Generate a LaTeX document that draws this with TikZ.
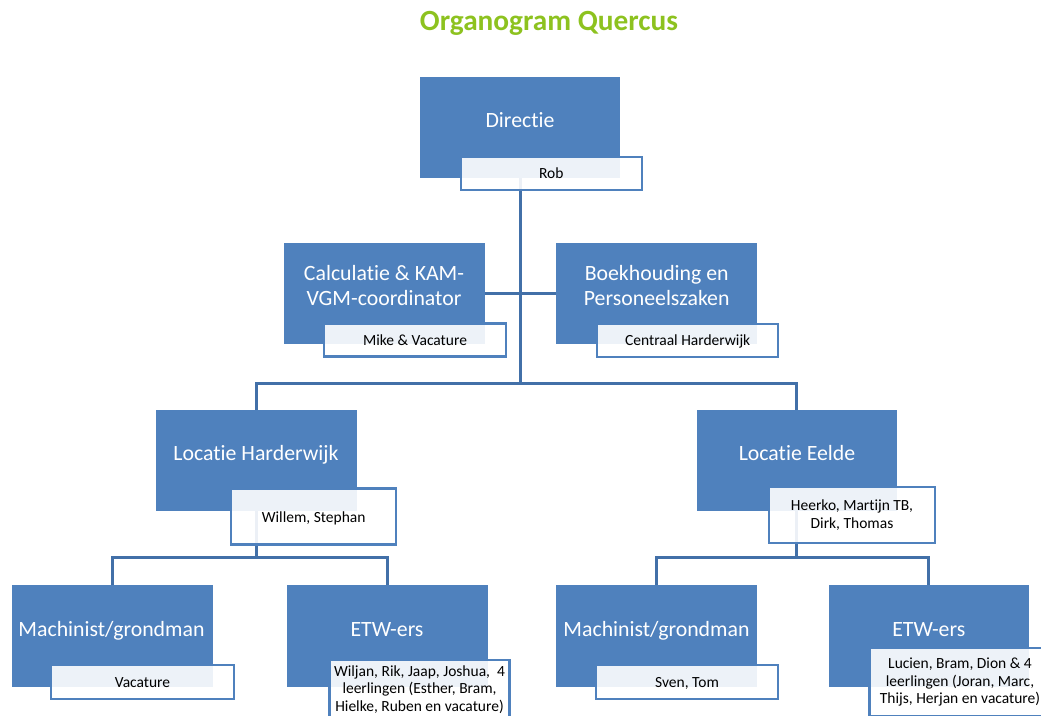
\documentclass[tikz,border=0pt]{standalone}
\usepackage{fontspec}
\setmainfont{Carlito}[Ligatures={NoCommon,NoRare,NoContextual}]
\definecolor{accblue}{HTML}{4F81BD}
\definecolor{lineblue}{HTML}{4270A8}
\definecolor{titlegreen}{HTML}{8DC21F}
\begin{document}
\begin{tikzpicture}[x=1pt,y=-1pt,
  bbox/.style={fill=accblue, draw=none, minimum width=200pt, minimum height=101pt, inner sep=0pt},
  btext/.style={text=white, font=\fontsize{21.8}{25}\selectfont, align=center, anchor=base, inner sep=0pt},
  wbox/.style={draw=accblue, line width=2.5pt, fill=white, fill opacity=0.9, text opacity=1, text=black,
    font=\fontsize{15.5}{17.7}\selectfont, align=center, inner sep=0pt},
  oneline/.style={text height=11pt, text depth=0pt},
  conn/.style={draw=lineblue, line width=3pt}]
\useasboundingbox (0,0) rectangle (1041,715);
\clip (0,0) rectangle (1041,715);

% title
\node[font=\fontsize{29.3}{34}\selectfont\bfseries, text=titlegreen, anchor=base, inner sep=0pt] (title) at (549,30) {Organogram Quercus};

% coordinates for buses
\coordinate (bus1) at (520,383);
\coordinate (bus2) at (256.3,557);
\coordinate (bus3) at (796.7,557);

% blue boxes (positions)
\path node[bbox] (d)  at (520,127.3) {}
      node[bbox] (c)  at (384.3,293.3) {}
      node[bbox] (b)  at (656.3,293.3) {}
      node[bbox] (lh) at (256.3,460.2) {}
      node[bbox] (le) at (796.7,460.2) {}
      node[bbox] (m1) at (112.3,635.8) {}
      node[bbox] (e1) at (387.3,635.8) {}
      node[bbox] (m2) at (656.3,635.8) {}
      node[bbox] (e2) at (928.8,635.8) {};

% connectors
\draw[conn] (d.south) -- (bus1);
\draw[conn] (c.east) -- (b.west);
\draw[conn] (lh.north) |- (bus1) -| (le.north);
\draw[conn] (lh.south) -- (bus2);
\draw[conn] (m1.north) |- (bus2) -| (e1.north);
\draw[conn] (le.south) -- (bus3);
\draw[conn] (m2.north) |- (bus3) -| (e2.north);

% blue boxes drawn again on top of connectors
\foreach \n in {d,c,b,lh,le,m1,e1,m2,e2}{
  \fill[accblue] (\n.south west) rectangle (\n.north east);
}

% blue box texts
\node[btext] (dT)  at (520,127) {Directie};
\node[btext] (cT)  at (384,305) {Calculatie \& KAM-\\VGM-coordinator};
\node[btext] (bT)  at (656.7,305) {Boekhouding en\\Personeelszaken};
\node[btext] (lhT) at (256,460) {Locatie Harderwijk};
\node[btext] (leT) at (797,460) {Locatie Eelde};
\node[btext] (m1T) at (111.5,636) {Machinist/grondman};
\node[btext] (e1T) at (387,636) {ETW-ers};
\node[btext] (m2T) at (656.5,636) {Machinist/grondman};
\node[btext] (e2T) at (928.8,636) {ETW-ers};

% white boxes
\node[wbox, oneline, minimum width=181pt, minimum height=33pt] (dW) at (551.3,173.4) {Rob};
\node[wbox, oneline, minimum width=182pt, minimum height=33pt] (cW) at (415,340.2) {Mike \& Vacature};
\node[wbox, oneline, minimum width=181pt, minimum height=33pt] (bW) at (687.7,340.3) {Centraal Harderwijk};
\node[wbox, oneline, minimum width=165pt, minimum height=56pt] (lhW) at (313.7,516.7) {Willem, Stephan};
\node[wbox, minimum width=166pt, minimum height=56pt] (leW) at (852,515) {Heerko, Martijn TB,\\Dirk, Thomas};
\node[wbox, oneline, minimum width=183pt, minimum height=34pt] (m1W) at (142.5,682) {Vacature};
\node[wbox, oneline, minimum width=182pt, minimum height=34pt] (m2W) at (687,682) {Sven, Tom};
\node[wbox, minimum width=180pt, minimum height=59pt] (e1W) at (419.5,689.6) {Wiljan, Rik, Jaap, Joshua,~ 4\\leerlingen (Esther, Bram,\\Hielke, Ruben en vacature)};
\node[wbox, font=\fontsize{15.5}{17.2}\selectfont, minimum width=181pt, minimum height=68pt] (e2W) at (960,682) {Lucien, Bram, Dion \& 4\\leerlingen (Joran, Marc,\\Thijs, Herjan en vacature)};
\end{tikzpicture}
\end{document}
